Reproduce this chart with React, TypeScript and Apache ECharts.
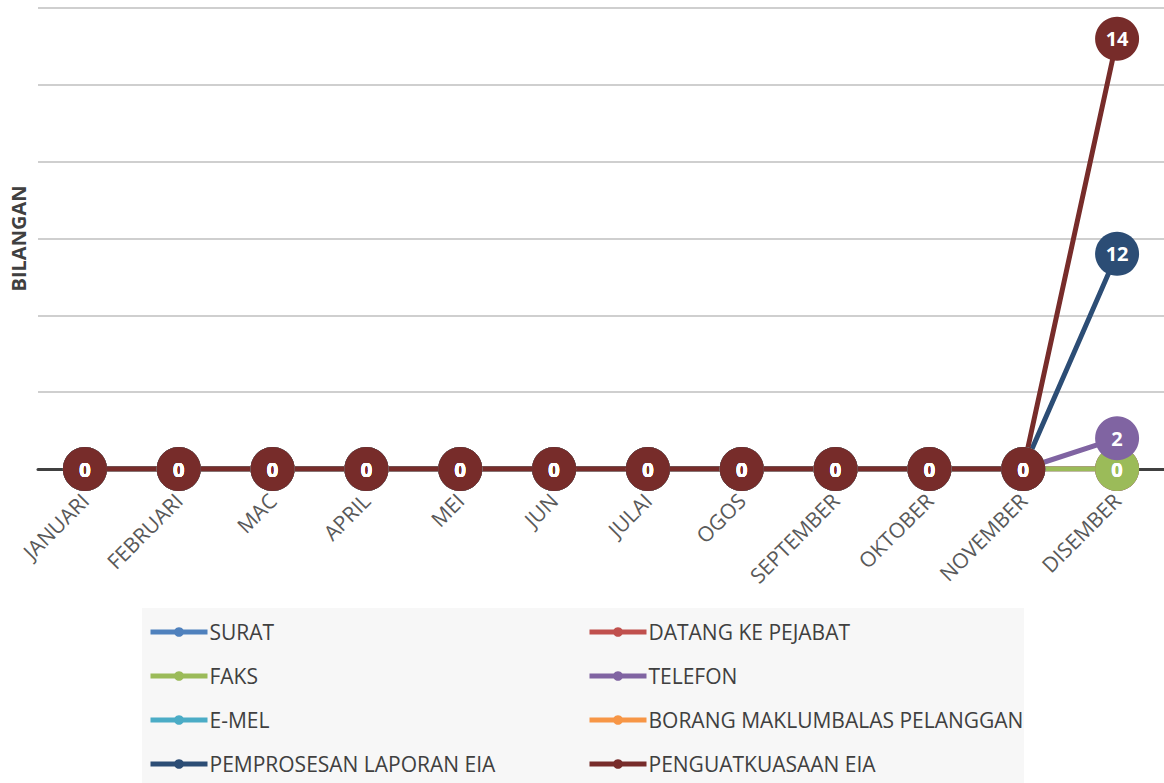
import React, { useEffect, useRef } from "react";
import * as echarts from "echarts";

const months = ["JANUARI", "FEBRUARI", "MAC", "APRIL", "MEI", "JUN", "JULAI", "OGOS", "SEPTEMBER", "OKTOBER", "NOVEMBER", "DISEMBER"];
const surat = [0, 0, 0, 0, 0, 0, 0, 0, 0, 0, 0, 0];
const datangKePejabat = [0, 0, 0, 0, 0, 0, 0, 0, 0, 0, 0, 0];
const faks = [0, 0, 0, 0, 0, 0, 0, 0, 0, 0, 0, 0];
const telefon = [0, 0, 0, 0, 0, 0, 0, 0, 0, 0, 0, 2];
const emel = [0, 0, 0, 0, 0, 0, 0, 0, 0, 0, 0, null];
const borang = [0, 0, 0, 0, 0, 0, 0, 0, 0, 0, 0, null];
const pemprosesan = [0, 0, 0, 0, 0, 0, 0, 0, 0, 0, 0, 12];
const penguatkuasaan = [0, 0, 0, 0, 0, 0, 0, 0, 0, 0, 0, 14];

const seriesDefs = [
  { name: "SURAT", data: surat, color: "#4f81bd" },
  { name: "DATANG KE PEJABAT", data: datangKePejabat, color: "#c0504d" },
  { name: "FAKS", data: faks, color: "#9bbb59" },
  { name: "TELEFON", data: telefon, color: "#8064a2" },
  { name: "E-MEL", data: emel, color: "#4bacc6" },
  { name: "BORANG MAKLUMBALAS PELANGGAN", data: borang, color: "#f79646" },
  { name: "PEMPROSESAN LAPORAN EIA", data: pemprosesan, color: "#2c4d75" },
  { name: "PENGUATKUASAAN EIA", data: penguatkuasaan, color: "#772c2a" },
];

const FONT = "'Open Sans', Lato, sans-serif";

export default function App() {
  const ref = useRef<HTMLDivElement>(null);
  useEffect(() => {
    if (!ref.current) return;
    const chart = echarts.init(ref.current, null, { renderer: "svg" });
    const legendCommon = {
      orient: "vertical",
      top: 620,
      padding: 0,
      itemWidth: 57,
      itemHeight: 12,
      itemGap: 20,
      lineStyle: { width: 5 },
      textStyle: { fontFamily: FONT, fontSize: 21, color: "#404040", lineHeight: 24, padding: [0, 0, 0, -3] },
    };
    chart.setOption({
      animation: false,
      backgroundColor: "#ffffff",
      graphic: [
        { type: "rect", left: 142, top: 608, shape: { width: 882, height: 175 }, style: { fill: "#f7f7f7" }, z: -1 },
      ],
      legend: [
        { ...legendCommon, left: 148, data: ["SURAT", "FAKS", "E-MEL", "PEMPROSESAN LAPORAN EIA"] },
        { ...legendCommon, left: 587, data: ["DATANG KE PEJABAT", "TELEFON", "BORANG MAKLUMBALAS PELANGGAN", "PENGUATKUASAAN EIA"] },
      ],
      grid: { left: 36, right: 0, top: 8, height: 461, containLabel: false },
      xAxis: {
        type: "category",
        data: months,
        boundaryGap: true,
        axisLine: { show: true, lineStyle: { color: "#404040", width: 3 } },
        axisTick: { show: false },
        axisLabel: { rotate: 45, fontFamily: FONT, fontSize: 21, color: "#595959", margin: 28, interval: 0 },
      },
      yAxis: {
        type: "value",
        min: 0,
        max: 30,
        interval: 5,
        name: "BILANGAN",
        nameLocation: "middle",
        nameRotate: 90,
        nameGap: 10,
        nameTextStyle: { fontFamily: FONT, fontSize: 20, fontWeight: "bold", color: "#404040" },
        axisLine: { show: false },
        axisTick: { show: false },
        axisLabel: { show: false },
        splitLine: { lineStyle: { color: "#cfcfcf", width: 2 } },
      },
      series: seriesDefs.map((s) => ({
        name: s.name,
        type: "line",
        stack: "total",
        data: s.data,
        color: s.color,
        symbol: "circle",
        symbolSize: 44,
        showAllSymbol: true,
        lineStyle: { width: 5, color: s.color },
        itemStyle: { color: s.color },
        label: {
          show: true,
          position: "inside",
          color: "#ffffff",
          fontFamily: FONT,
          fontWeight: "bold",
          fontSize: 20,
        },
        emphasis: { disabled: true },
      })),
    });
    return () => chart.dispose();
  }, []);
  return <div ref={ref} style={{ position: "fixed", left: 0, top: 0, width: 1164, height: 783 }} />;
}
